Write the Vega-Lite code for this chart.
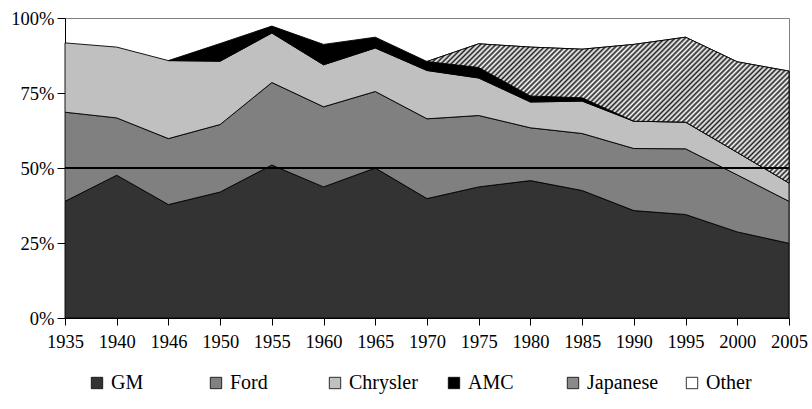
{
  "$schema": "https://vega.github.io/schema/vega-lite/v6.json",
  "width": 724,
  "height": 300,
  "autosize": {"type": "none"},
  "padding": {"left": 65, "top": 18, "right": 23, "bottom": 91},
  "background": "#ffffff",
  "config": {
    "view": {"stroke": "#808080", "strokeWidth": 1},
    "font": "Liberation Serif, Times New Roman, Times, serif",
    "axis": {"labelFont": "Liberation Serif, Times New Roman, Times, serif", "labelColor": "#000", "domainColor": "#000", "tickColor": "#000", "grid": false, "title": null},
    "legend": {"labelFont": "Liberation Serif, Times New Roman, Times, serif"}
  },
  "data": {
    "values": [
      {"year": 1935, "GM": 38.9, "Ford": 29.7, "Chrysler": 23.1},
      {"year": 1940, "GM": 47.6, "Ford": 19.1, "Chrysler": 23.6},
      {"year": 1946, "GM": 37.8, "Ford": 22.0, "Chrysler": 26.0, "AMC": 0},
      {"year": 1950, "GM": 42.0, "Ford": 22.5, "Chrysler": 21.1, "AMC": 5.9},
      {"year": 1955, "GM": 51.0, "Ford": 27.5, "Chrysler": 16.5, "AMC": 2.3},
      {"year": 1960, "GM": 43.7, "Ford": 26.7, "Chrysler": 14.0, "AMC": 6.8},
      {"year": 1965, "GM": 50.0, "Ford": 25.5, "Chrysler": 14.5, "AMC": 3.6},
      {"year": 1970, "GM": 39.8, "Ford": 26.6, "Chrysler": 16.1, "AMC": 3.0, "Japanese": 0},
      {"year": 1975, "GM": 43.7, "Ford": 23.8, "Chrysler": 12.5, "AMC": 3.5, "Japanese": 7.9},
      {"year": 1980, "GM": 45.8, "Ford": 17.6, "Chrysler": 8.6, "AMC": 2.0, "Japanese": 16.3},
      {"year": 1985, "GM": 42.5, "Ford": 19.0, "Chrysler": 10.8, "AMC": 1.1, "Japanese": 16.2},
      {"year": 1990, "GM": 35.8, "Ford": 20.7, "Chrysler": 9.1, "AMC": 0, "Japanese": 25.6},
      {"year": 1995, "GM": 34.5, "Ford": 21.9, "Chrysler": 8.9, "Japanese": 28.3},
      {"year": 2000, "GM": 28.7, "Ford": 19.0, "Chrysler": 7.5, "Japanese": 30.2},
      {"year": 2005, "GM": 24.9, "Ford": 14.0, "Chrysler": 6.1, "Japanese": 37.3}
    ]
  },
  "transform": [
    {"fold": ["GM", "Ford", "Chrysler", "AMC", "Japanese"], "as": ["maker", "share"]},
    {"filter": "isValid(datum.share)"},
    {"calculate": "indexof(['GM','Ford','Chrysler','AMC','Japanese'], datum.maker)", "as": "k"},
    {"stack": "share", "groupby": ["year"], "sort": [{"field": "k", "order": "ascending"}], "as": ["y0", "y1"]}
  ],
  "encoding": {
    "x": {
      "field": "year", "type": "ordinal",
      "scale": {"type": "point", "padding": 0},
      "axis": {"labelAngle": 0, "labelFontSize": 18.5, "tickSize": 7, "labelPadding": 7, "domainColor": "#000"}
    },
    "y": {
      "field": "y1", "type": "quantitative",
      "scale": {"domain": [0, 100], "nice": false},
      "axis": {"values": [0, 25, 50, 75, 100], "labelExpr": "datum.value + '%'", "labelFontSize": 18.5, "tickSize": 8, "labelPadding": 3}
    },
    "y2": {"field": "y0"}
  },
  "layer": [
    {
      "mark": {"type": "area", "stroke": "#000", "strokeWidth": 0.9, "opacity": 1},
      "encoding": {
        "color": {
          "field": "maker", "type": "nominal",
          "scale": {"domain": ["GM", "Ford", "Chrysler", "AMC", "Japanese", "Other"], "range": ["#333333", "#808080", "#c0c0c0", "#000000", "#8a8a8a", "#ffffff"]},
          "legend": {
            "title": null, "orient": "none", "legendX": 22, "legendY": 355,
            "direction": "horizontal", "columns": 6, "gridAlign": "all", "columnPadding": 23,
            "symbolType": "square", "symbolSize": 130, "symbolStrokeColor": "#000", "symbolStrokeWidth": 0.8, "symbolOpacity": 1,
            "labelFontSize": 20, "labelColor": "#000", "labelOffset": 4
          }
        }
      }
    },
    {
      "transform": [{"filter": "datum.maker === 'Japanese'"}],
      "mark": {"type": "area", "stroke": "#000", "strokeWidth": 0.9, "fill": {"gradient": "linear", "x1": 0, "y1": 0, "x2": 1.207, "y2": 0.487, "stops": [
        {"offset":0,"color":"#222"},{"offset":0.005,"color":"#fff"},{"offset":0.01,"color":"#222"},{"offset":0.015,"color":"#fff"},{"offset":0.02,"color":"#222"},{"offset":0.025,"color":"#fff"},{"offset":0.03,"color":"#222"},{"offset":0.035,"color":"#fff"},{"offset":0.04,"color":"#222"},{"offset":0.045,"color":"#fff"},
        {"offset":0.05,"color":"#222"},{"offset":0.055,"color":"#fff"},{"offset":0.06,"color":"#222"},{"offset":0.065,"color":"#fff"},{"offset":0.07,"color":"#222"},{"offset":0.075,"color":"#fff"},{"offset":0.08,"color":"#222"},{"offset":0.085,"color":"#fff"},{"offset":0.09,"color":"#222"},{"offset":0.095,"color":"#fff"},
        {"offset":0.1,"color":"#222"},{"offset":0.105,"color":"#fff"},{"offset":0.11,"color":"#222"},{"offset":0.115,"color":"#fff"},{"offset":0.12,"color":"#222"},{"offset":0.125,"color":"#fff"},{"offset":0.13,"color":"#222"},{"offset":0.135,"color":"#fff"},{"offset":0.14,"color":"#222"},{"offset":0.145,"color":"#fff"},
        {"offset":0.15,"color":"#222"},{"offset":0.155,"color":"#fff"},{"offset":0.16,"color":"#222"},{"offset":0.165,"color":"#fff"},{"offset":0.17,"color":"#222"},{"offset":0.175,"color":"#fff"},{"offset":0.18,"color":"#222"},{"offset":0.185,"color":"#fff"},{"offset":0.19,"color":"#222"},{"offset":0.195,"color":"#fff"},
        {"offset":0.2,"color":"#222"},{"offset":0.205,"color":"#fff"},{"offset":0.21,"color":"#222"},{"offset":0.215,"color":"#fff"},{"offset":0.22,"color":"#222"},{"offset":0.225,"color":"#fff"},{"offset":0.23,"color":"#222"},{"offset":0.235,"color":"#fff"},{"offset":0.24,"color":"#222"},{"offset":0.245,"color":"#fff"},
        {"offset":0.25,"color":"#222"},{"offset":0.255,"color":"#fff"},{"offset":0.26,"color":"#222"},{"offset":0.265,"color":"#fff"},{"offset":0.27,"color":"#222"},{"offset":0.275,"color":"#fff"},{"offset":0.28,"color":"#222"},{"offset":0.285,"color":"#fff"},{"offset":0.29,"color":"#222"},{"offset":0.295,"color":"#fff"},
        {"offset":0.3,"color":"#222"},{"offset":0.305,"color":"#fff"},{"offset":0.31,"color":"#222"},{"offset":0.315,"color":"#fff"},{"offset":0.32,"color":"#222"},{"offset":0.325,"color":"#fff"},{"offset":0.33,"color":"#222"},{"offset":0.335,"color":"#fff"},{"offset":0.34,"color":"#222"},{"offset":0.345,"color":"#fff"},
        {"offset":0.35,"color":"#222"},{"offset":0.355,"color":"#fff"},{"offset":0.36,"color":"#222"},{"offset":0.365,"color":"#fff"},{"offset":0.37,"color":"#222"},{"offset":0.375,"color":"#fff"},{"offset":0.38,"color":"#222"},{"offset":0.385,"color":"#fff"},{"offset":0.39,"color":"#222"},{"offset":0.395,"color":"#fff"},
        {"offset":0.4,"color":"#222"},{"offset":0.405,"color":"#fff"},{"offset":0.41,"color":"#222"},{"offset":0.415,"color":"#fff"},{"offset":0.42,"color":"#222"},{"offset":0.425,"color":"#fff"},{"offset":0.43,"color":"#222"},{"offset":0.435,"color":"#fff"},{"offset":0.44,"color":"#222"},{"offset":0.445,"color":"#fff"},
        {"offset":0.45,"color":"#222"},{"offset":0.455,"color":"#fff"},{"offset":0.46,"color":"#222"},{"offset":0.465,"color":"#fff"},{"offset":0.47,"color":"#222"},{"offset":0.475,"color":"#fff"},{"offset":0.48,"color":"#222"},{"offset":0.485,"color":"#fff"},{"offset":0.49,"color":"#222"},{"offset":0.495,"color":"#fff"},
        {"offset":0.5,"color":"#222"},{"offset":0.505,"color":"#fff"},{"offset":0.51,"color":"#222"},{"offset":0.515,"color":"#fff"},{"offset":0.52,"color":"#222"},{"offset":0.525,"color":"#fff"},{"offset":0.53,"color":"#222"},{"offset":0.535,"color":"#fff"},{"offset":0.54,"color":"#222"},{"offset":0.545,"color":"#fff"},
        {"offset":0.55,"color":"#222"},{"offset":0.555,"color":"#fff"},{"offset":0.56,"color":"#222"},{"offset":0.565,"color":"#fff"},{"offset":0.57,"color":"#222"},{"offset":0.575,"color":"#fff"},{"offset":0.58,"color":"#222"},{"offset":0.585,"color":"#fff"},{"offset":0.59,"color":"#222"},{"offset":0.595,"color":"#fff"},
        {"offset":0.6,"color":"#222"},{"offset":0.605,"color":"#fff"},{"offset":0.61,"color":"#222"},{"offset":0.615,"color":"#fff"},{"offset":0.62,"color":"#222"},{"offset":0.625,"color":"#fff"},{"offset":0.63,"color":"#222"},{"offset":0.635,"color":"#fff"},{"offset":0.64,"color":"#222"},{"offset":0.645,"color":"#fff"},
        {"offset":0.65,"color":"#222"},{"offset":0.655,"color":"#fff"},{"offset":0.66,"color":"#222"},{"offset":0.665,"color":"#fff"},{"offset":0.67,"color":"#222"},{"offset":0.675,"color":"#fff"},{"offset":0.68,"color":"#222"},{"offset":0.685,"color":"#fff"},{"offset":0.69,"color":"#222"},{"offset":0.695,"color":"#fff"},
        {"offset":0.7,"color":"#222"},{"offset":0.705,"color":"#fff"},{"offset":0.71,"color":"#222"},{"offset":0.715,"color":"#fff"},{"offset":0.72,"color":"#222"},{"offset":0.725,"color":"#fff"},{"offset":0.73,"color":"#222"},{"offset":0.735,"color":"#fff"},{"offset":0.74,"color":"#222"},{"offset":0.745,"color":"#fff"},
        {"offset":0.75,"color":"#222"},{"offset":0.755,"color":"#fff"},{"offset":0.76,"color":"#222"},{"offset":0.765,"color":"#fff"},{"offset":0.77,"color":"#222"},{"offset":0.775,"color":"#fff"},{"offset":0.78,"color":"#222"},{"offset":0.785,"color":"#fff"},{"offset":0.79,"color":"#222"},{"offset":0.795,"color":"#fff"},
        {"offset":0.8,"color":"#222"},{"offset":0.805,"color":"#fff"},{"offset":0.81,"color":"#222"},{"offset":0.815,"color":"#fff"},{"offset":0.82,"color":"#222"},{"offset":0.825,"color":"#fff"},{"offset":0.83,"color":"#222"},{"offset":0.835,"color":"#fff"},{"offset":0.84,"color":"#222"},{"offset":0.845,"color":"#fff"},
        {"offset":0.85,"color":"#222"},{"offset":0.855,"color":"#fff"},{"offset":0.86,"color":"#222"},{"offset":0.865,"color":"#fff"},{"offset":0.87,"color":"#222"},{"offset":0.875,"color":"#fff"},{"offset":0.88,"color":"#222"},{"offset":0.885,"color":"#fff"},{"offset":0.89,"color":"#222"},{"offset":0.895,"color":"#fff"},
        {"offset":0.9,"color":"#222"},{"offset":0.905,"color":"#fff"},{"offset":0.91,"color":"#222"},{"offset":0.915,"color":"#fff"},{"offset":0.92,"color":"#222"},{"offset":0.925,"color":"#fff"},{"offset":0.93,"color":"#222"},{"offset":0.935,"color":"#fff"},{"offset":0.94,"color":"#222"},{"offset":0.945,"color":"#fff"},
        {"offset":0.95,"color":"#222"},{"offset":0.955,"color":"#fff"},{"offset":0.96,"color":"#222"},{"offset":0.965,"color":"#fff"},{"offset":0.97,"color":"#222"},{"offset":0.975,"color":"#fff"},{"offset":0.98,"color":"#222"},{"offset":0.985,"color":"#fff"},{"offset":0.99,"color":"#222"},{"offset":0.995,"color":"#fff"},
        {"offset":1,"color":"#222"}
      ]}}
    },
    {
      "mark": {"type": "rule", "color": "#000", "strokeWidth": 1},
      "encoding": {"y": {"datum": 50, "type": "quantitative"}, "y2": null, "x": null}
    }
  ]
}
